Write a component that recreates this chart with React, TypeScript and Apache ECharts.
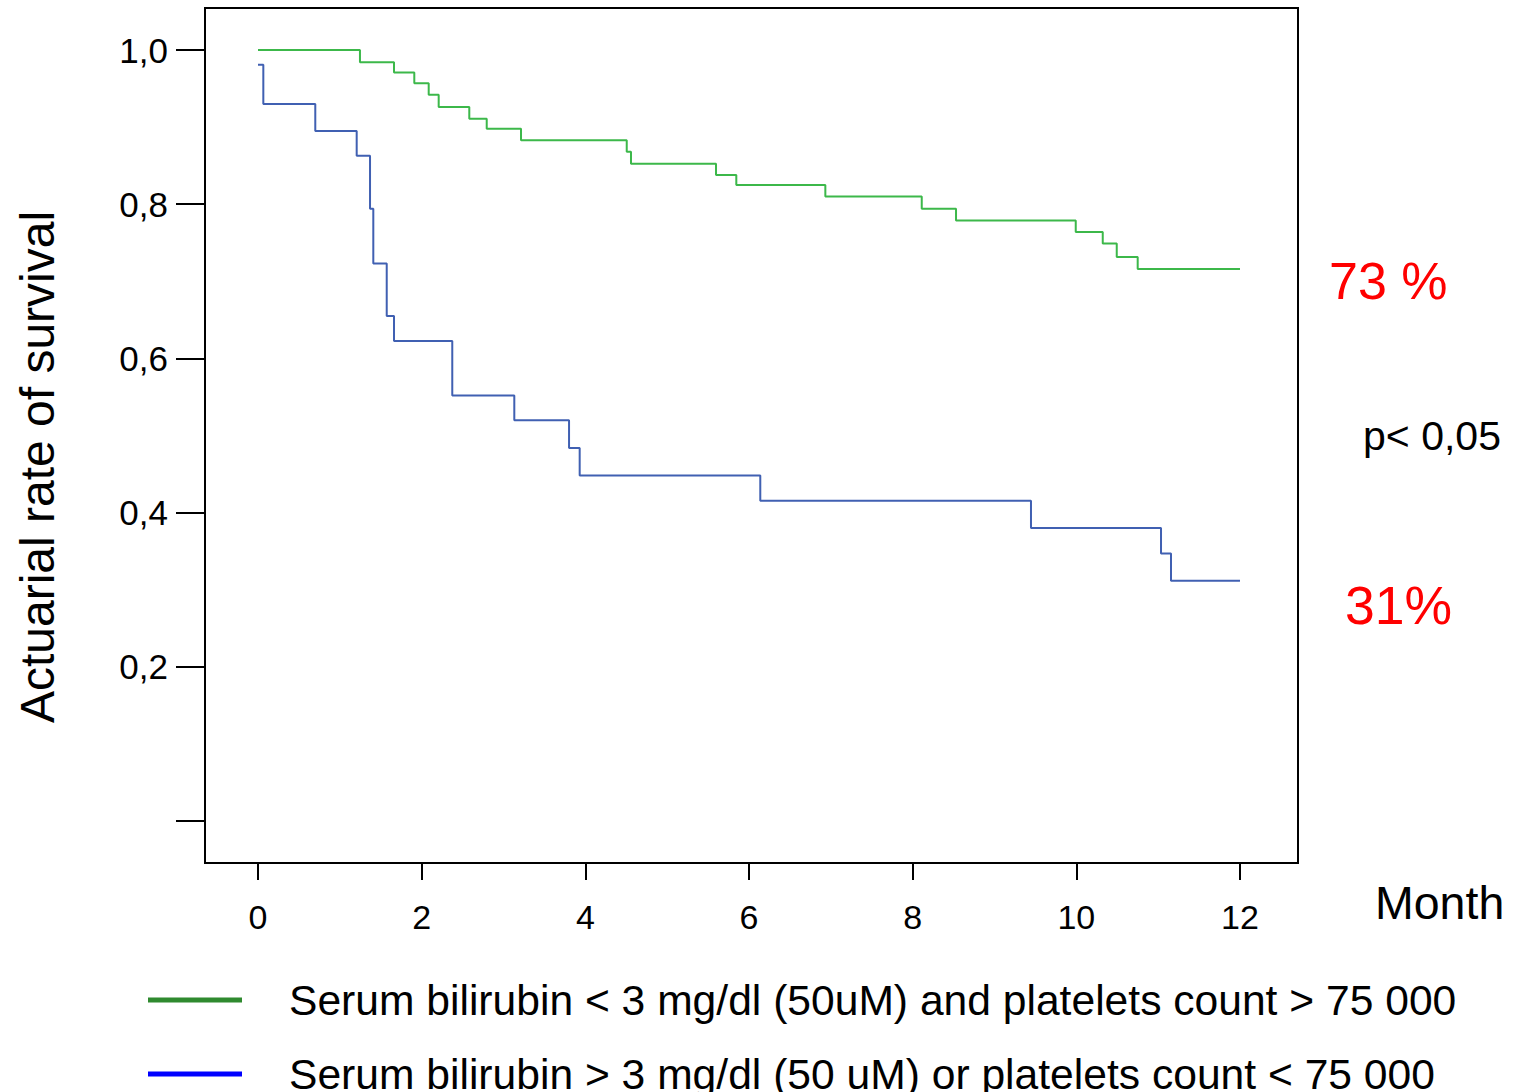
import React, { useEffect, useRef } from "react";
import * as echarts from "echarts";

const monthTicks = [0, 2, 4, 6, 8, 10, 12];
const rateTicks = [0, 0.2, 0.4, 0.6, 0.8, 1.0];
const rateLabels = [0.2, 0.4, 0.6, 0.8, 1.0];

const greenName = "Serum bilirubin < 3 mg/dl (50uM) and platelets count > 75 000";
const blueName = "Serum bilirubin > 3 mg/dl (50 uM) or platelets count < 75 000";

const greenTimes = [0, 1.246, 1.662, 1.91, 2.086, 2.208, 2.582, 2.795, 3.214, 4.506, 4.558, 5.597, 5.845, 6.933, 8.111, 8.53, 9.993, 10.323, 10.494, 10.75, 12];
const greenRates = [1.0, 0.984, 0.971, 0.957, 0.942, 0.926, 0.911, 0.898, 0.883, 0.868, 0.8525, 0.838, 0.825, 0.81, 0.794, 0.779, 0.764, 0.749, 0.7315, 0.716, 0.716];

const blueTimes = [0, 0.065, 0.7, 1.206, 1.369, 1.409, 1.573, 1.662, 2.374, 3.132, 3.801, 3.931, 6.138, 9.446, 11.035, 11.157, 12];
const blueRates = [0.981, 0.93, 0.895, 0.863, 0.794, 0.723, 0.655, 0.6226, 0.552, 0.5197, 0.4838, 0.448, 0.4154, 0.38, 0.347, 0.3117, 0.3117];

const FONT = "'Liberation Sans', Arial, Helvetica, sans-serif";

export default function App() {
  const ref = useRef<HTMLDivElement>(null);
  useEffect(() => {
    if (!ref.current) return;
    const chart = echarts.init(ref.current, null, { renderer: "svg" });
    const fmt = (v: number) => v.toFixed(1).replace(".", ",");
    const legendBase = {
      orient: "horizontal",
      left: 148,
      padding: 0,
      itemWidth: 94,
      itemHeight: 5,
      icon: "rect",
      textStyle: { fontSize: 42.6, lineHeight: 42, color: "#000", fontFamily: FONT, padding: [0, 0, 10, 42] },
    };
    chart.setOption({
      animation: false,
      backgroundColor: "#fff",
      textStyle: { fontFamily: FONT },
      grid: {
        left: 205,
        right: 215,
        top: 8,
        bottom: 229,
        show: true,
        borderColor: "#000",
        borderWidth: 2,
        containLabel: false,
      },
      xAxis: {
        type: "value",
        min: -0.6477,
        max: 12.709,
        axisLine: { show: true, onZero: false, lineStyle: { color: "#000", width: 2 } },
        axisTick: { show: true, inside: false, length: 17, customValues: monthTicks, lineStyle: { color: "#000", width: 2 } },
        axisLabel: {
          customValues: monthTicks,
          margin: 37,
          fontSize: 34,
          color: "#000",
          fontFamily: FONT,
        },
        splitLine: { show: false },
      },
      yAxis: {
        type: "value",
        min: -0.0545,
        max: 1.0545,
        axisLine: { show: true, onZero: false, lineStyle: { color: "#000", width: 2 } },
        axisTick: { show: true, inside: false, length: 29, customValues: rateTicks, lineStyle: { color: "#000", width: 2 } },
        axisLabel: {
          customValues: rateLabels,
          margin: 37,
          fontSize: 35,
          color: "#000",
          fontFamily: FONT,
          formatter: (v: number) => fmt(v),
        },
        splitLine: { show: false },
      },
      legend: [
        {
          ...legendBase,
          top: 974,
          data: [{ name: greenName, itemStyle: { color: "#2f8a2f" } }],
        },
        {
          ...legendBase,
          top: 1048,
          data: [{ name: blueName, itemStyle: { color: "#0000ff" } }],
        },
      ],
      series: [
        {
          name: greenName,
          type: "line",
          step: "end",
          showSymbol: false,
          symbol: "none",
          lineStyle: { color: "#3cb84a", width: 2 },
          itemStyle: { color: "#3cb84a" },
          data: greenTimes.map((t, i) => [t, greenRates[i]]),
        },
        {
          name: blueName,
          type: "line",
          step: "end",
          showSymbol: false,
          symbol: "none",
          lineStyle: { color: "#4060b2", width: 2 },
          itemStyle: { color: "#4060b2" },
          data: blueTimes.map((t, i) => [t, blueRates[i]]),
        },
      ],
      graphic: [
        {
          type: "text",
          x: 37,
          y: 467,
          rotation: Math.PI / 2,
          style: { text: "Actuarial rate of survival", fontSize: 48, fontFamily: FONT, fill: "#000", textAlign: "center", textVerticalAlign: "middle" },
        },
        {
          type: "text",
          x: 1375,
          y: 903,
          style: { text: "Month", fontSize: 46.5, fontFamily: FONT, fill: "#000", textAlign: "left", textVerticalAlign: "middle" },
        },
        {
          type: "text",
          x: 1329,
          y: 281,
          style: { text: "73 %", fontSize: 52, fontFamily: FONT, fill: "#ff0000", textAlign: "left", textVerticalAlign: "middle" },
        },
        {
          type: "text",
          x: 1345,
          y: 605,
          style: { text: "31%", fontSize: 53.5, fontFamily: FONT, fill: "#ff0000", textAlign: "left", textVerticalAlign: "middle" },
        },
        {
          type: "text",
          x: 1363,
          y: 436,
          style: { text: "p< 0,05", fontSize: 41, fontFamily: FONT, fill: "#000", textAlign: "left", textVerticalAlign: "middle" },
        },
      ],
    });
    return () => chart.dispose();
  }, []);
  return <div ref={ref} style={{ position: "absolute", left: 0, top: 0, width: 1513, height: 1092 }} />;
}
